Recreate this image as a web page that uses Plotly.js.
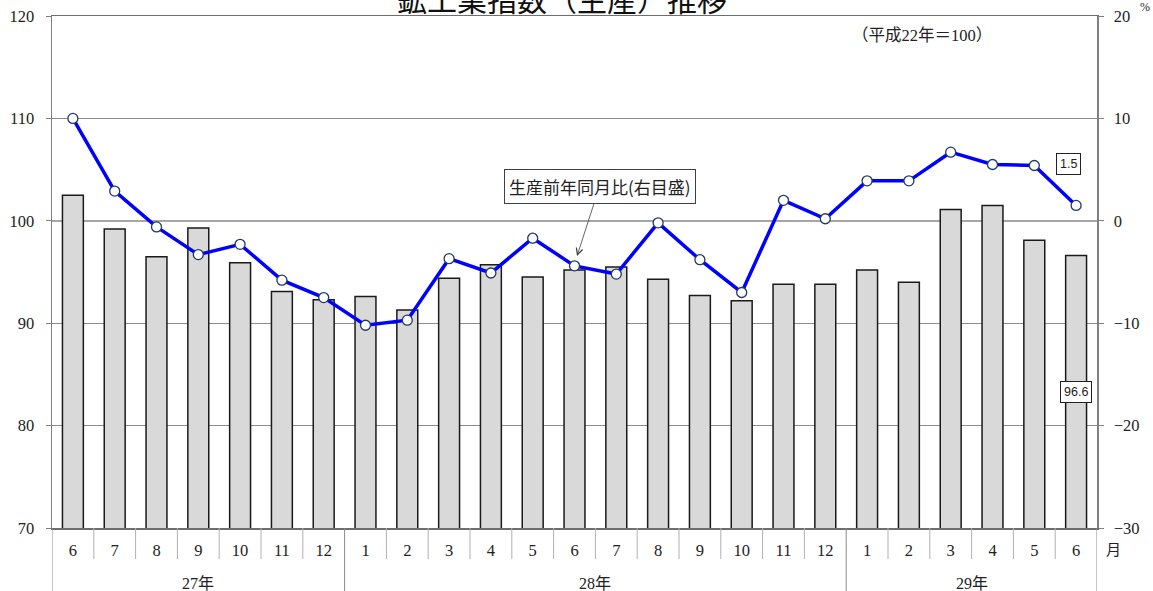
<!DOCTYPE html>
<html>
<head>
<meta charset="utf-8">
<script src="https://cdn.plot.ly/plotly-3.0.1.min.js"></script>
<style>html,body{margin:0;padding:0;background:#fff;}#chart{width:1153px;height:591px;}</style>
</head>
<body>
<div id="chart"></div>
<script>
// ---- data ----
const months = ["6","7","8","9","10","11","12","1","2","3","4","5","6","7","8","9","10","11","12","1","2","3","4","5","6"];
const years  = ["27年","27年","27年","27年","27年","27年","27年",
                "28年","28年","28年","28年","28年","28年","28年","28年","28年","28年","28年","28年",
                "29年","29年","29年","29年","29年","29年"];
const productionIndex = [102.5,99.2,96.5,99.3,95.9,93.1,92.3,92.6,91.3,94.4,95.7,94.5,95.2,95.5,94.3,92.7,92.2,93.8,93.8,95.2,94.0,101.1,101.5,98.1,96.6];
const yoyChange = [10.0,2.9,-0.6,-3.3,-2.3,-5.8,-7.5,-10.2,-9.7,-3.7,-5.1,-1.7,-4.4,-5.2,-0.2,-3.8,-7.0,2.0,0.2,3.9,3.9,6.7,5.5,5.4,1.5];
const leftTicks = [70,80,90,100,110,120];
const rightTicks = [-30,-20,-10,0,10,20];
const titleText = "鉱工業指数（生産）推移";
const baseText = "（平成22年＝100）";
const lineLabel = "生産前年同月比(右目盛)";

const xs = months.map((m, i) => i);
const serif = "Liberation Serif, Noto Sans CJK JP, serif";
const n = months.length;

// ---- traces ----
const bars = {
  type: "bar", x: xs, y: productionIndex, yaxis: "y", width: 0.5,
  marker: {color: "#d9d9d9", line: {color: "#1a1a1a", width: 1.5}},
  hoverinfo: "skip", showlegend: false
};
const line = {
  type: "scatter", mode: "lines+markers", x: xs, y: yoyChange, yaxis: "y2",
  line: {color: "#0000ff", width: 3.5},
  marker: {symbol: "circle", size: 10, color: "#ffffff", line: {color: "#1f3864", width: 1.3}},
  cliponaxis: false, hoverinfo: "skip", showlegend: false
};

// ---- separators under the x axis ----
const shapes = [];
const yearBounds = [];
for (let i = 0; i <= n; i++) {
  const isYearBound = (i === 0 || i === n || years[i] !== years[i - 1]);
  if (isYearBound) yearBounds.push(i);
  shapes.push({
    type: "line", xref: "x", yref: "paper",
    x0: i - 0.5, x1: i - 0.5, y0: 0, y1: isYearBound ? -63 / 512 : -31 / 512,
    line: {color: isYearBound ? "#8c8c8c" : "#b0b0b0", width: 1}
  });
}

// ---- annotations ----
const annotations = [];
for (let k = 0; k < yearBounds.length - 1; k++) {
  const a = yearBounds[k], b = yearBounds[k + 1];
  annotations.push({
    xref: "x", yref: "paper", x: (a + b - 1) / 2, y: -55 / 512,
    text: years[a], showarrow: false, xanchor: "center", yanchor: "middle",
    font: {family: serif, size: 16, color: "#222"}
  });
}
annotations.push({xref: "paper", yref: "paper", x: (1113 - 52) / 1045, y: -22 / 512, text: "月",
  showarrow: false, xanchor: "center", yanchor: "middle", font: {family: serif, size: 15, color: "#222"}});
annotations.push({xref: "paper", yref: "paper", x: (1145 - 52) / 1045, y: (528 - 7) / 512, text: "%",
  showarrow: false, xanchor: "center", yanchor: "middle", font: {family: serif, size: 12, color: "#222"}});
annotations.push({xref: "paper", yref: "paper", x: (922 - 52) / 1045, y: (528 - 35) / 512, text: baseText,
  showarrow: false, xanchor: "center", yanchor: "middle", font: {family: serif, size: 16.5, color: "#222"}});
annotations.push({
  xref: "x", yref: "y2", x: 12.06, y: -3.44, ax: 22.5, ay: -69.5,
  text: lineLabel, showarrow: true, arrowhead: 5, arrowsize: 1.6, arrowwidth: 0.8,
  arrowcolor: "#404040", bgcolor: "#ffffff", bordercolor: "#404040", borderwidth: 1, borderpad: 4,
  font: {family: "Noto Sans CJK JP, sans-serif", size: 17, color: "#222"}
});
annotations.push({
  xref: "x", yref: "y2", x: n - 1 - 0.17, y: yoyChange[n - 1] + 4.0,
  text: yoyChange[n - 1].toFixed(1), showarrow: false, xanchor: "center", yanchor: "middle",
  bgcolor: "#ffffff", bordercolor: "#222", borderwidth: 1, borderpad: 3,
  font: {family: "Liberation Sans, Noto Sans, sans-serif", size: 12.5, color: "#222"}
});
annotations.push({
  xref: "x", yref: "y", x: n - 1, y: 83.33,
  text: productionIndex[n - 1].toFixed(1), showarrow: false, xanchor: "center", yanchor: "middle",
  bgcolor: "#ffffff", bordercolor: "#222", borderwidth: 1, borderpad: 3,
  font: {family: "Liberation Sans, Noto Sans, sans-serif", size: 12.5, color: "#222"}
});

const layout = {
  width: 1153, height: 591,
  margin: {l: 52, r: 56, t: 16, b: 63},
  paper_bgcolor: "#ffffff", plot_bgcolor: "#ffffff",
  title: {text: titleText, x: 562 / 1153, xanchor: "center", y: 1, yref: "container", yanchor: "middle",
          font: {family: "Noto Sans CJK JP, sans-serif", size: 30, color: "#111"}},
  bargap: 0,
  xaxis: {
    range: [-0.5, n - 0.5], tickvals: xs, ticktext: months, ticks: "",
    showgrid: false, zeroline: false, showline: true, linecolor: "#6e6e6e", linewidth: 1.5, mirror: true,
    tickfont: {family: serif, size: 16.5, color: "#222"}, ticklabelstandoff: 7, fixedrange: true
  },
  yaxis: {
    range: [70, 120], tickvals: leftTicks, ticks: "outside", ticklen: 5, tickcolor: "#808080",
    showgrid: true, gridcolor: "#8c8c8c", gridwidth: 1, zeroline: false,
    showline: true, linecolor: "#808080", linewidth: 1.5,
    tickfont: {family: serif, size: 16.5, color: "#222"}, ticklabelstandoff: 8
  },
  yaxis2: {
    range: [-30, 20], tickvals: rightTicks, overlaying: "y", side: "right",
    ticks: "outside", ticklen: 5, tickcolor: "#808080", showgrid: false,
    zeroline: true, zerolinecolor: "#a6a6a6", zerolinewidth: 2,
    showline: true, linecolor: "#808080", linewidth: 1.5,
    tickfont: {family: serif, size: 16.5, color: "#222"}, ticklabelstandoff: 7
  },
  shapes: shapes,
  annotations: annotations
};

Plotly.newPlot("chart", [bars, line], layout, {staticPlot: true, displayModeBar: false});
</script>
</body>
</html>
